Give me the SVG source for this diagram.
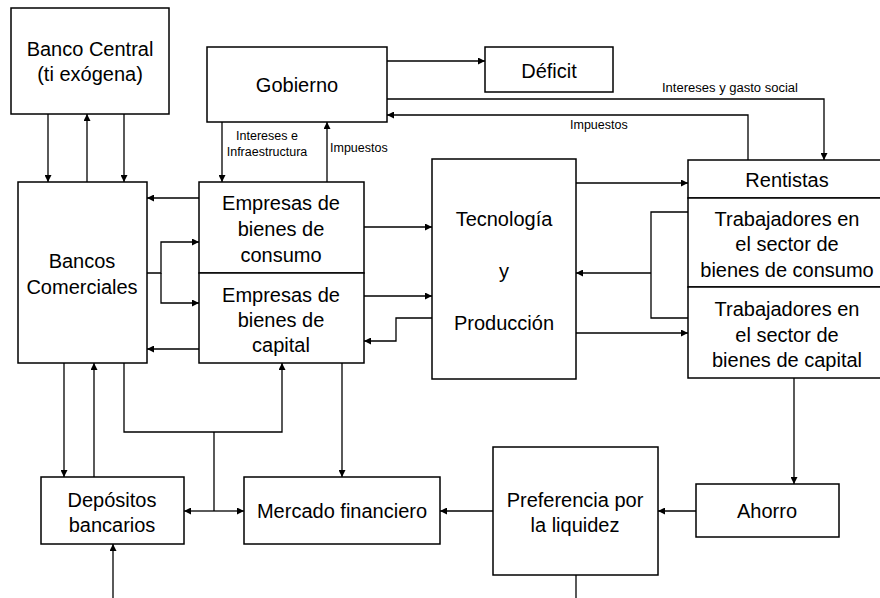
<svg xmlns="http://www.w3.org/2000/svg" width="880" height="598" viewBox="0 0 880 598">
<style>
.box{fill:#fff;stroke:#000;stroke-width:1.5}
.t{font-family:"Liberation Sans",Arial,sans-serif;font-size:20px;fill:#000;text-anchor:middle}
.s{font-family:"Liberation Sans",Arial,sans-serif;font-size:12.5px;fill:#000}
.c{fill:none;stroke:#000;stroke-width:1.3}
</style>
<defs>
<marker id="ah" viewBox="0 0 10 10" refX="10" refY="5" markerWidth="7" markerHeight="7" markerUnits="userSpaceOnUse" orient="auto">
<path d="M0,0 L10,5 L0,10 z" fill="#000"/>
</marker>
</defs>
<rect width="880" height="598" fill="#fff"/>
<g id="connectors">
<!-- Banco Central <-> Bancos -->
<path class="c" d="M48,114 V182" marker-end="url(#ah)"/>
<path class="c" d="M87,182 V114" marker-end="url(#ah)"/>
<path class="c" d="M124,114 V182" marker-end="url(#ah)"/>
<!-- Gobierno -> Deficit -->
<path class="c" d="M387,61 H485" marker-end="url(#ah)"/>
<!-- Gobierno -> Rentistas -->
<path class="c" d="M387,99 H824 V160" marker-end="url(#ah)"/>
<!-- Rentistas -> Gobierno -->
<path class="c" d="M748,160 V115 H387" marker-end="url(#ah)"/>
<!-- Gobierno <-> Empresas -->
<path class="c" d="M222,122 V182" marker-end="url(#ah)"/>
<path class="c" d="M327,182 V122" marker-end="url(#ah)"/>
<!-- Empresas -> Bancos -->
<path class="c" d="M199,198 H147" marker-end="url(#ah)"/>
<path class="c" d="M199,349 H147" marker-end="url(#ah)"/>
<!-- Bancos -> Empresas -->
<path class="c" d="M147,273 H161 V242 H199" marker-end="url(#ah)"/>
<path class="c" d="M161,273 V303 H199" marker-end="url(#ah)"/>
<!-- Empresas -> Tecnologia -->
<path class="c" d="M364,227 H432" marker-end="url(#ah)"/>
<path class="c" d="M364,296 H432" marker-end="url(#ah)"/>
<!-- Tecnologia -> Empresas capital -->
<path class="c" d="M432,318 H396 V341 H364" marker-end="url(#ah)"/>
<!-- Tecnologia -> Rentistas / Trabajadores -->
<path class="c" d="M576,183 H688" marker-end="url(#ah)"/>
<path class="c" d="M576,333 H688" marker-end="url(#ah)"/>
<!-- Trabajadores -> Tecnologia -->
<path class="c" d="M688,212 H651 V318 H688"/>
<path class="c" d="M651,273 H576" marker-end="url(#ah)"/>
<!-- Bancos <-> Depositos -->
<path class="c" d="M64,363 V477" marker-end="url(#ah)"/>
<path class="c" d="M94,477 V363" marker-end="url(#ah)"/>
<!-- Bancos -> Empresas capital (via bottom) -->
<path class="c" d="M124,363 V432 H282 V363" marker-end="url(#ah)"/>
<path class="c" d="M214,432 V511"/>
<path class="c" d="M214,511 H184" marker-end="url(#ah)"/>
<path class="c" d="M214,511 H244" marker-end="url(#ah)"/>
<!-- Empresas capital -> Mercado -->
<path class="c" d="M342,363 V477" marker-end="url(#ah)"/>
<!-- Trabajadores capital -> Ahorro -->
<path class="c" d="M794,378 V484" marker-end="url(#ah)"/>
<!-- Ahorro -> Preferencia -->
<path class="c" d="M696,511 H658" marker-end="url(#ah)"/>
<!-- Preferencia -> Mercado -->
<path class="c" d="M493,511 H440" marker-end="url(#ah)"/>
<!-- bottom lines -->
<path class="c" d="M113,598 V544" marker-end="url(#ah)"/>
<path class="c" d="M576,575 V598"/>
<!-- labels -->
<text class="s" x="267" y="140" text-anchor="middle">Intereses e</text>
<text class="s" x="267" y="156" text-anchor="middle">Infraestructura</text>
<text class="s" x="330" y="152">Impuestos</text>
<text class="s" x="662" y="92" textLength="136" lengthAdjust="spacingAndGlyphs">Intereses y gasto social</text>
<text class="s" x="570" y="129">Impuestos</text>
</g>
<g id="banco-central">
<rect class="box" x="11" y="8" width="158" height="106"/>
<text class="t" x="90" y="56">Banco Central</text>
<text class="t" x="90" y="81">(ti exógena)</text>
</g>
<g id="gobierno">
<rect class="box" x="207" y="47" width="180" height="75"/>
<text class="t" x="297" y="92">Gobierno</text>
</g>
<g id="deficit">
<rect class="box" x="485" y="47" width="128" height="45"/>
<text class="t" x="549" y="78">Déficit</text>
</g>
<g id="bancos-comerciales">
<rect class="box" x="18" y="182" width="129" height="181"/>
<text class="t" x="82" y="268">Bancos</text>
<text class="t" x="82" y="294">Comerciales</text>
</g>
<g id="empresas-consumo">
<rect class="box" x="199" y="182" width="165" height="91"/>
<text class="t" x="281" y="210">Empresas de</text>
<text class="t" x="281" y="236">bienes de</text>
<text class="t" x="281" y="262">consumo</text>
</g>
<g id="empresas-capital">
<rect class="box" x="199" y="273" width="165" height="90"/>
<text class="t" x="281" y="302">Empresas de</text>
<text class="t" x="281" y="327">bienes de</text>
<text class="t" x="281" y="352">capital</text>
</g>
<g id="tecnologia">
<rect class="box" x="432" y="159" width="144" height="220"/>
<text class="t" x="504" y="226">Tecnología</text>
<text class="t" x="504" y="278">y</text>
<text class="t" x="504" y="330">Producción</text>
</g>
<g id="rentistas">
<rect class="box" x="688" y="160" width="200" height="38"/>
<text class="t" x="787" y="187">Rentistas</text>
</g>
<g id="trabajadores-consumo">
<rect class="box" x="688" y="198" width="200" height="89"/>
<text class="t" x="787" y="226">Trabajadores en</text>
<text class="t" x="787" y="251">el sector de</text>
<text class="t" x="787" y="277">bienes de consumo</text>
</g>
<g id="trabajadores-capital">
<rect class="box" x="688" y="287" width="200" height="91"/>
<text class="t" x="787" y="316">Trabajadores en</text>
<text class="t" x="787" y="342">el sector de</text>
<text class="t" x="787" y="367">bienes de capital</text>
</g>
<g id="depositos">
<rect class="box" x="41" y="477" width="143" height="67"/>
<text class="t" x="112" y="507">Depósitos</text>
<text class="t" x="112" y="532">bancarios</text>
</g>
<g id="mercado">
<rect class="box" x="244" y="477" width="196" height="67"/>
<text class="t" x="342" y="518">Mercado financiero</text>
</g>
<g id="preferencia">
<rect class="box" x="493" y="447" width="165" height="128"/>
<text class="t" x="575" y="507">Preferencia por</text>
<text class="t" x="575" y="532">la liquidez</text>
</g>
<g id="ahorro">
<rect class="box" x="696" y="484" width="143" height="53"/>
<text class="t" x="767" y="518">Ahorro</text>
</g>
</svg>
